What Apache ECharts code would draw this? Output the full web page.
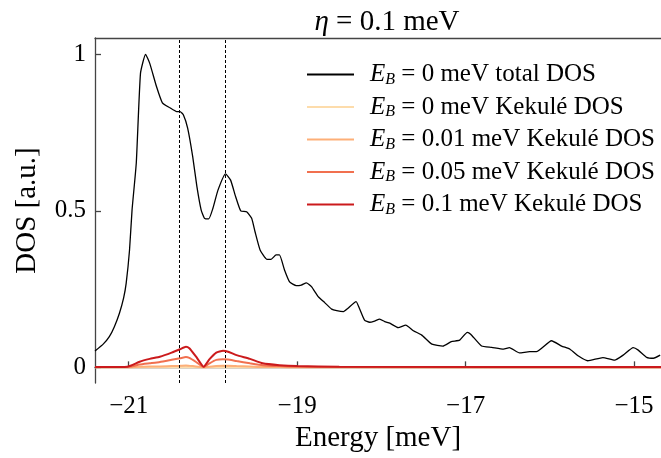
<!DOCTYPE html>
<html>
<head>
<meta charset="utf-8">
<style>
  html, body { margin: 0; padding: 0; background: #fff; }
  #chart { width: 661px; height: 458px; }
</style>
<script src="https://cdn.jsdelivr.net/npm/echarts@6/dist/echarts.min.js"></script>
</head>
<body>
<div id="chart"></div>
<script>
// total DOS (E_B = 0)
var totE = [-21.40, -21.30, -21.23, -21.17, -21.11, -21.06, -21.03, -20.99, -20.96, -20.91,
  -20.86, -20.80, -20.75, -20.67, -20.60, -20.51, -20.43, -20.39, -20.35, -20.30,
  -20.24, -20.19, -20.14, -20.10, -20.05, -20.00, -19.94, -19.85, -19.79, -19.73,
  -19.67, -19.60, -19.54, -19.50, -19.44, -19.36, -19.31, -19.25, -19.21, -19.15,
  -19.09, -19.01, -18.95, -18.89, -18.83, -18.75, -18.67, -18.59, -18.53, -18.45,
  -18.40, -18.30, -18.26, -18.20, -18.14, -18.08, -18.02, -17.96, -17.90, -17.80,
  -17.71, -17.62, -17.52, -17.40, -17.27, -17.17, -17.07, -16.98, -16.94, -16.81,
  -16.69, -16.55, -16.48, -16.36, -16.24, -16.16, -15.98, -15.86, -15.76, -15.66,
  -15.55, -15.37, -15.23, -15.13, -15.01, -14.95, -14.85, -14.77, -14.69]
var totDos = [0.052, 0.075, 0.098, 0.130, 0.173, 0.222, 0.268, 0.375, 0.503, 0.652,
  0.939, 1.000, 0.971, 0.897, 0.845, 0.829, 0.817, 0.817, 0.806, 0.764,
  0.673, 0.577, 0.503, 0.476, 0.474, 0.508, 0.566, 0.618, 0.598, 0.545,
  0.500, 0.497, 0.476, 0.433, 0.375, 0.345, 0.345, 0.359, 0.359, 0.311,
  0.273, 0.261, 0.263, 0.270, 0.258, 0.226, 0.206, 0.186, 0.181, 0.178,
  0.188, 0.210, 0.188, 0.151, 0.144, 0.148, 0.154, 0.146, 0.141, 0.127,
  0.135, 0.117, 0.103, 0.074, 0.068, 0.082, 0.087, 0.112, 0.106, 0.068,
  0.064, 0.058, 0.063, 0.046, 0.050, 0.050, 0.085, 0.068, 0.058, 0.036,
  0.021, 0.031, 0.023, 0.039, 0.063, 0.055, 0.032, 0.029, 0.039]

// Kekulé DOS for the four E_B values
var kekE = [-21.40, -21.05, -20.97, -20.87, -20.75, -20.63, -20.49, -20.39, -20.32, -20.28,
  -20.20, -20.11, -20.04, -19.96, -19.88, -19.82, -19.72, -19.56, -19.41, -19.21,
  -19.00, -18.50, -14.68]
var kekB0 = [0, 0, 0, 0, 0, 0, 0, 0, 0, 0,
  0, 0, 0, 0, 0, 0, 0, 0, 0, 0,
  0, 0, 0]
var kekB001 = [0, 0, 0.0005, 0.002, 0.003, 0.003, 0.004, 0.005, 0.006, 0.005,
  0.003, 0, 0.002, 0.004, 0.005, 0.005, 0.004, 0.003, 0.001, 0.001,
  0, 0, 0]
var kekB005 = [0.001, 0.001, 0.003, 0.009, 0.013, 0.017, 0.024, 0.029, 0.033, 0.030,
  0.017, 0.001, 0.013, 0.024, 0.026, 0.025, 0.020, 0.013, 0.007, 0.004,
  0.002, 0.001, 0.0005]
var kekB01 = [0.001, 0.001, 0.006, 0.018, 0.027, 0.034, 0.047, 0.058, 0.066, 0.061,
  0.034, 0.002, 0.026, 0.047, 0.053, 0.050, 0.039, 0.027, 0.013, 0.007,
  0.004, 0.002, 0.001]

var bValues = ['0', '0', '0.01', '0.05', '0.1']
var kinds = ['total DOS', 'Kekulé DOS', 'Kekulé DOS', 'Kekulé DOS', 'Kekulé DOS']
var markE = [-20.40, -19.85]
var xTicks = [-21, -19, -17, -15]
var yTicks = [0, 0.5, 1]

var colors = ['#000000', '#fddcab', '#fdaf78', '#f1704f', '#cb1a1c']
var font = '"Liberation Serif", "DejaVu Serif", serif'

function pairs(xs, ys) {
  return xs.map(function (x, i) { return [x, ys[i]] })
}

var names = bValues.map(function (b, i) {
  return 'EB=' + b + ' ' + kinds[i]
})
var sets = [pairs(totE, totDos), pairs(kekE, kekB0), pairs(kekE, kekB001),
  pairs(kekE, kekB005), pairs(kekE, kekB01)]

var chart = echarts.init(document.getElementById('chart'))

var series = sets.map(function (d, i) {
  var s = {
    name: names[i],
    type: 'line',
    data: d,
    showSymbol: false,
    smooth: 0.15,
    lineStyle: { color: colors[i], width: i === 0 ? 1.3 : 2 },
    itemStyle: { color: colors[i] },
    z: 2 + i
  }
  if (i === 0) {
    s.markLine = {
      silent: true,
      symbol: 'none',
      label: { show: false },
      lineStyle: { color: '#000', type: [3, 2], width: 1 },
      data: markE.map(function (e) { return { xAxis: e } })
    }
  }
  return s
})

chart.setOption({
  animation: false,
  title: {
    text: '{i|η} = 0.1 meV',
    left: 382,
    textAlign: 'center',
    top: 3,
    textStyle: {
      fontFamily: font,
      fontSize: 29,
      fontWeight: 'normal',
      color: '#000',
      rich: {
        i: { fontFamily: font, fontSize: 29, fontStyle: 'italic', color: '#000' }
      }
    }
  },
  legend: {
    orient: 'vertical',
    left: 302,
    top: 57,
    itemWidth: 47,
    itemHeight: 2,
    itemGap: 7,
    icon: 'rect',
    data: names,
    formatter: function (name) {
      var i = names.indexOf(name)
      return '{e|E}{s|B}{t| = ' + bValues[i] + ' meV ' + kinds[i] + '}'
    },
    textStyle: {
      fontFamily: font,
      fontSize: 25,
      color: '#000',
      rich: {
        e: { fontFamily: font, fontSize: 25, fontStyle: 'italic', color: '#000', lineHeight: 26, padding: [0, 0, 0, 11] },
        s: { fontFamily: font, fontSize: 16, fontStyle: 'italic', color: '#000', lineHeight: 26, verticalAlign: 'bottom', padding: [9, 0, 0, 0] },
        t: { fontFamily: font, fontSize: 25, color: '#000', lineHeight: 26 }
      }
    }
  },
  grid: {
    left: 95,
    right: 0,
    top: 38,
    bottom: 75,
    outerBoundsMode: 'none'
  },
  xAxis: [{
    type: 'value',
    min: -21.4,
    max: -14.68,
    name: 'Energy [meV]',
    nameLocation: 'middle',
    nameGap: 39,
    nameTextStyle: { fontFamily: font, fontSize: 29, color: '#000' },
    axisLine: { lineStyle: { color: '#444', width: 1.3 } },
    axisTick: { inside: true, length: 6, customValues: xTicks, lineStyle: { color: '#444', width: 1.3 } },
    axisLabel: {
      customValues: xTicks,
      margin: 11,
      fontFamily: font,
      fontSize: 25,
      color: '#000',
      formatter: function (v) { return String(v).replace('-', '\u2212') }
    },
    splitLine: { show: false }
  }, {
    type: 'value',
    position: 'top',
    min: -21.4,
    max: -14.68,
    axisLine: { show: true, lineStyle: { color: '#444', width: 1.3 } },
    axisTick: { show: false },
    axisLabel: { show: false },
    splitLine: { show: false }
  }],
  yAxis: {
    type: 'value',
    min: -0.05,
    max: 1.052,
    name: 'DOS [a.u.]',
    nameLocation: 'middle',
    nameGap: 53,
    nameTextStyle: { fontFamily: font, fontSize: 29, color: '#000' },
    axisLine: { show: true, lineStyle: { color: '#444', width: 1.3 } },
    axisTick: { show: true, inside: true, length: 6, customValues: yTicks, lineStyle: { color: '#444', width: 1.3 } },
    axisLabel: {
      customValues: yTicks,
      margin: 9,
      fontFamily: font,
      fontSize: 25,
      color: '#000'
    },
    splitLine: { show: false }
  },
  series: series
})
</script>
</body>
</html>
